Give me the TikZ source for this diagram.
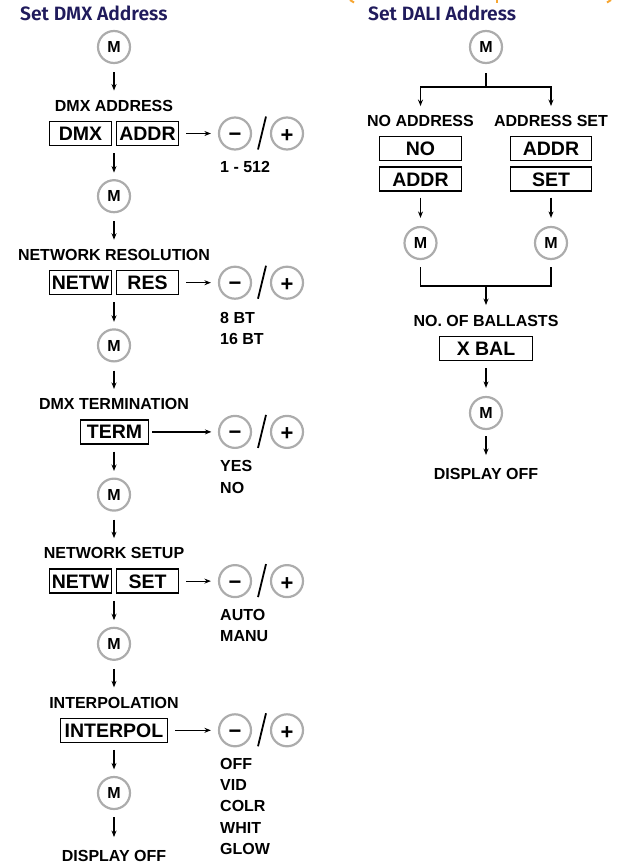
\documentclass[tikz,border=0pt]{standalone}
\usepackage{fontspec}
\setmainfont{Liberation Sans}
\newfontfamily\titrefont{Fira Sans SemiBold}
\usetikzlibrary{arrows.meta}

\definecolor{bleunuit}{RGB}{32,27,92}
\definecolor{gristouche}{RGB}{172,172,172}
\definecolor{orangeacc}{RGB}{247,166,50}

\newcommand{\lblfont}{\fontsize{16}{19}\selectfont\bfseries}
\newcommand{\dispfont}{\fontsize{19.5}{22}\selectfont\bfseries}
\newcommand{\signfont}{\fontsize{22}{22}\selectfont\bfseries}
\newcommand{\valfont}{\fontsize{16}{21.3}\selectfont\bfseries}

\tikzset{
    titre/.style={inner sep=0pt, font=\titrefont\fontsize{19.3}{21}\selectfont, text=bleunuit},
    lbl/.style={inner sep=0pt, font=\lblfont, text height=11.5pt, text depth=0pt},
    disp/.style={draw, line width=1.3pt, minimum height=24pt, inner sep=0pt, font=\dispfont, text height=14pt, text depth=0pt},
    btn/.style={circle, draw=gristouche, line width=2.2pt, minimum size=32pt, inner sep=0pt},
    mbtn/.style={btn, font=\lblfont, text height=11.5pt, text depth=0pt},
    btnmoins/.style={btn, font=\signfont, text height=16pt, text depth=0pt},
    btnplus/.style={btn, font=\signfont, text height=18pt, text depth=0pt},
    vals/.style={anchor=north west, align=left, inner sep=0pt, font=\valfont},
    flow/.style={->, line width=1.2pt},
    trait/.style={line width=1.2pt},
    barre/.style={line width=1.8pt},
}

\begin{document}
\begin{tikzpicture}[x=1pt, y=-1pt, >={Stealth[length=6.5pt,width=5pt]}]
    \useasboundingbox (0,0) rectangle (623,865);

    % Titres
    \node[titre, anchor=base west] (titreDMX) at (20,20) {Set DMX Address};
    \node[titre, anchor=base west] (titreDALI) at (368,20) {Set DALI Address};

    % Accolade orange coupee en haut
    \draw[orangeacc, line width=2pt] (350,0) -- (354,2.5);
    \draw[orangeacc, line width=2pt] (497,0) -- (497,3);
    \draw[orangeacc, line width=2pt] (611,0) -- (607,2.5);

    % ----- Colonne DMX -----
    \node[mbtn] (m1) at (114,47) {M};

    % Adresse DMX
    \node[lbl] (lblAddr) at (114,105.5) {DMX ADDRESS};
    \node[disp, minimum width=62pt] (dmx) at (80.5,133.5) {DMX};
    \node[disp, minimum width=62pt] (addr) at (147.5,133.5) {ADDR};
    \node[btnmoins] (moinsA) at (235,133.5) {−};
    \node[btnplus] (plusA) at (287,133.5) {+};
    \node[vals] (valA) at (220,161.3) {1 - 512};
    \node[mbtn] (m2) at (114,196.2) {M};
    \draw[flow, shorten <=8pt, shorten >=9pt] (m1) -- (lblAddr);
    \draw[flow, shorten <=7pt, shorten >=7pt] (addr) -- (moinsA);
    \draw[barre] (moinsA) ++(23,16) -- ++(8,-33);
    \draw[flow, shorten <=7pt, shorten >=6.5pt] (m2 |- dmx.south) -- (m2);

    % Resolution reseau
    \node[lbl] (lblRes) at (114,254.7) {NETWORK RESOLUTION};
    \node[disp, minimum width=62pt] (netwA) at (80.5,282.7) {NETW};
    \node[disp, minimum width=62pt] (res) at (147.5,282.7) {RES};
    \node[btnmoins] (moinsB) at (235,282.7) {−};
    \node[btnplus] (plusB) at (287,282.7) {+};
    \node[vals] (valB) at (220,312.3) {8 BT\\16 BT};
    \node[mbtn] (m3) at (114,345.4) {M};
    \draw[flow, shorten <=8pt, shorten >=9pt] (m2) -- (lblRes);
    \draw[flow, shorten <=7pt, shorten >=7pt] (res) -- (moinsB);
    \draw[barre] (moinsB) ++(23,16) -- ++(8,-33);
    \draw[flow, shorten <=7pt, shorten >=6.5pt] (m3 |- netwA.south) -- (m3);

    % Terminaison DMX
    \node[lbl] (lblTerm) at (114,403.9) {DMX TERMINATION};
    \node[disp, minimum width=67.7pt] (term) at (114.5,431.9) {TERM};
    \node[btnmoins] (moinsC) at (235,431.9) {−};
    \node[btnplus] (plusC) at (287,431.9) {+};
    \node[vals] (valC) at (220,460.5) {YES\\NO};
    \node[mbtn] (m4) at (114,494.6) {M};
    \draw[flow, shorten <=8pt, shorten >=9pt] (m3) -- (lblTerm);
    \draw[flow, shorten <=3pt, shorten >=6.5pt] (term) -- (moinsC);
    \draw[barre] (moinsC) ++(23,16) -- ++(8,-33);
    \draw[flow, shorten <=7pt, shorten >=6.5pt] (m4 |- term.south) -- (m4);

    % Configuration reseau
    \node[lbl] (lblSetup) at (114,553.1) {NETWORK SETUP};
    \node[disp, minimum width=62pt] (netwB) at (80.5,581.1) {NETW};
    \node[disp, minimum width=62pt] (set) at (147.5,581.1) {SET};
    \node[btnmoins] (moinsD) at (235,581.1) {−};
    \node[btnplus] (plusD) at (287,581.1) {+};
    \node[vals] (valD) at (220,609.3) {AUTO\\MANU};
    \node[mbtn] (m5) at (114,643.8) {M};
    \draw[flow, shorten <=8pt, shorten >=9pt] (m4) -- (lblSetup);
    \draw[flow, shorten <=7pt, shorten >=7pt] (set) -- (moinsD);
    \draw[barre] (moinsD) ++(23,16) -- ++(8,-33);
    \draw[flow, shorten <=7pt, shorten >=6.5pt] (m5 |- netwB.south) -- (m5);

    % Interpolation
    \node[lbl] (lblInterp) at (114,702.3) {INTERPOLATION};
    \node[disp, minimum width=106.7pt] (interpol) at (114,730.3) {INTERPOL};
    \node[btnmoins] (moinsE) at (235,730.3) {−};
    \node[btnplus] (plusE) at (287,730.3) {+};
    \node[vals] (valE) at (220,757.8) {OFF\\VID\\COLR\\WHIT\\GLOW};
    \node[mbtn] (m6) at (114,793) {M};
    \node[lbl] (offDMX) at (114,856) {DISPLAY OFF};
    \draw[flow, shorten <=8pt, shorten >=9pt] (m5) -- (lblInterp);
    \draw[flow, shorten <=7pt, shorten >=7pt] (interpol) -- (moinsE);
    \draw[barre] (moinsE) ++(23,16) -- ++(8,-33);
    \draw[flow, shorten <=7pt, shorten >=6.5pt] (m6 |- interpol.south) -- (m6);
    \draw[flow, shorten <=7pt, shorten >=13pt] (m6) -- (offDMX);

    % ----- Colonne DALI -----
    \node[mbtn] (mr1) at (486,47) {M};
    \coordinate (fourche) at (486,87);
    \node[lbl] (lblNo) at (420.5,121) {NO ADDRESS};
    \node[lbl] (lblSet) at (551,121) {ADDRESS SET};
    \node[disp, minimum width=81.7pt] (no) at (420.5,148.5) {NO};
    \node[disp, minimum width=81.7pt] (addrNo) at (420.5,179) {ADDR};
    \node[disp, minimum width=80.7pt] (addrSet) at (551,148.5) {ADDR};
    \node[disp, minimum width=80.7pt] (setSet) at (551,179) {SET};
    \node[mbtn] (mrNo) at (420.5,243) {M};
    \node[mbtn] (mrSet) at (551,243) {M};
    \coordinate (jonction) at (486,286);
    \node[lbl] (lblBal) at (486,321) {NO. OF BALLASTS};
    \node[disp, minimum width=92.7pt] (xbal) at (486,348.5) {X BAL};
    \node[mbtn] (mr2) at (486,413) {M};
    \node[lbl] (offDALI) at (486,474) {DISPLAY OFF};

    % Branches
    \draw[trait, shorten <=9pt] (mr1) -- (fourche);
    \draw[flow, shorten >=9pt] (fourche) -| (lblNo);
    \draw[flow, shorten >=9pt] (fourche) -| (lblSet);
    \draw[flow, shorten <=6pt, shorten >=8pt] (addrNo) -- (mrNo);
    \draw[flow, shorten <=6pt, shorten >=8pt] (setSet) -- (mrSet);
    \draw[trait, shorten <=7pt, shorten >=7pt] (mrNo) |- (jonction) -| (mrSet);
    \draw[flow, shorten >=10pt] (jonction) -- (lblBal);
    \draw[flow, shorten <=7pt, shorten >=8pt] (xbal) -- (mr2);
    \draw[flow, shorten <=6pt, shorten >=13pt] (mr2) -- (offDALI);
\end{tikzpicture}
\end{document}
